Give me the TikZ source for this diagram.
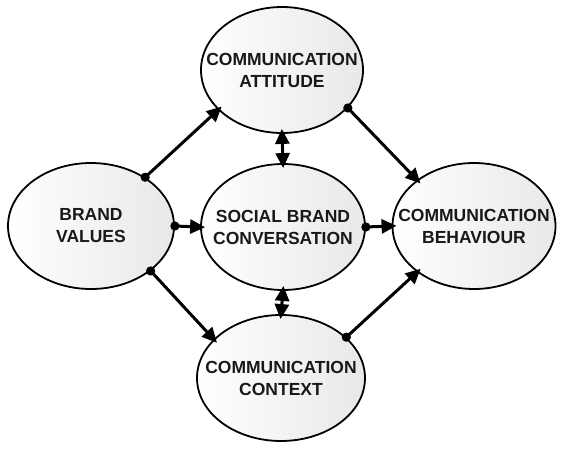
\documentclass[tikz,border=0pt]{standalone}
\usepackage{fontspec}
\setmainfont{Liberation Sans}
\usetikzlibrary{shapes.geometric,arrows.meta}
\begin{document}
\begin{tikzpicture}[x=1pt,y=-1pt,
  oval/.style={ellipse, draw=black, line width=1.8pt, inner xsep=-45pt, inner ysep=0pt,
    minimum width=164pt, minimum height=126pt,
    left color=white, right color=black!9,
    font=\fontsize{17.5}{22}\selectfont\bfseries, align=center, text=black!90},
  dotconn/.style={line width=3pt, {Circle[length=9pt]}-{Triangle[length=15pt,width=14pt]},
    shorten >=-5pt, shorten <=-4.5pt},
  dbl/.style={line width=3pt, {Triangle[length=15pt,width=14pt]}-{Triangle[length=15pt,width=14pt]},
    shorten >=-5pt, shorten <=-5pt}
]
\useasboundingbox[fill=white] (0,0) rectangle (568,452);
\node[oval, minimum width=162pt] (T) at (282,70) {COMMUNICATION\\ATTITUDE};
\node[oval, minimum width=166pt] (L) at (91,226) {BRAND\\VALUES};
\node[oval] (M) at (283,227) {SOCIAL BRAND\\CONVERSATION};
\node[oval, minimum width=163pt] (R) at (474,226) {COMMUNICATION\\BEHAVIOUR};
\node[oval, minimum width=168pt] (B) at (281,378) {COMMUNICATION\\CONTEXT};

\draw[dotconn] (L.42) -- (T.212);
\draw[dotconn] (L.-37) -- (B.150);
\draw[dotconn] (T.-30) -- (R.141);
\draw[dotconn] (B.32) -- (R.219);
\draw[dotconn] (L.east) -- (M.west);
\draw[dotconn] (M.east) -- (R.west);
\draw[dbl] (T.south) -- (M.north);
\draw[dbl] (M.south) -- (B.north);
\end{tikzpicture}
\end{document}
